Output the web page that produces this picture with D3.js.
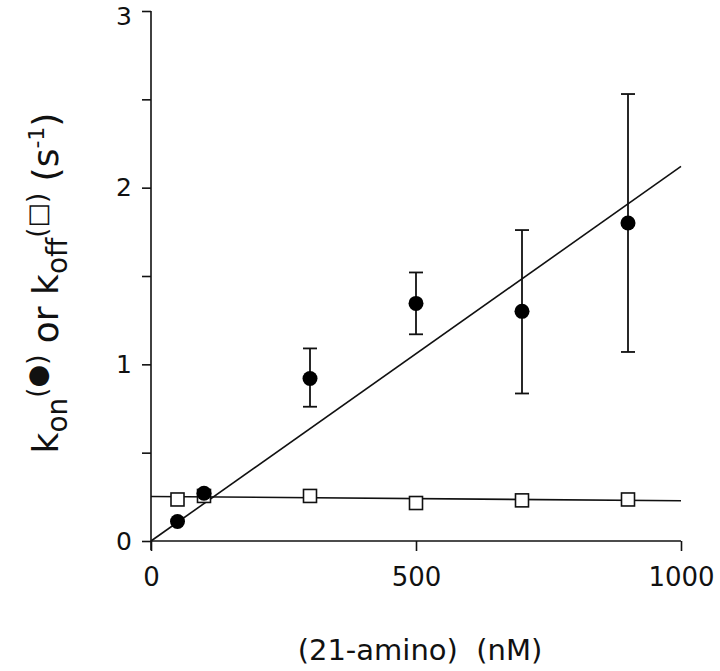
<!DOCTYPE html>
<html>
<head>
<meta charset="utf-8">
<script src="https://cdn.jsdelivr.net/npm/d3@7"></script>
<style>
  body { margin: 0; background: #fff; }
  svg { display: block; }
  text { font-family: "DejaVu Sans", sans-serif; fill: #111; }
</style>
</head>
<body>
<svg id="chart" width="720" height="671"></svg>
<script>
// ---- data ----
const conc = [50, 100, 300, 500, 700, 900];
const kon = [0.11, 0.27, 0.92, 1.345, 1.30, 1.80];
const konLow = [null, null, 0.76, 1.17, 0.835, 1.07];
const konHigh = [null, null, 1.09, 1.52, 1.76, 2.53];
const koff = [0.235, 0.255, 0.255, 0.215, 0.23, 0.235];
const konFit = [[0, 0], [1000, 2.12]];
const koffFit = [[0, 0.252], [1000, 0.228]];
const xTicks = [0, 500, 1000];
const yTicks = [0, 1, 2, 3];
const yMinorTicks = [0.5, 1.5, 2.5];

const svg = d3.select("#chart");
const x = d3.scaleLinear().domain([0, 1000]).range([151, 681]);
const y = d3.scaleLinear().domain([0, 3]).range([541, 11]);

const stroke = "#111";

// axes
const yAxis = d3.axisLeft(y).tickValues(yTicks.concat(yMinorTicks).sort())
  .tickSize(9).tickPadding(10)
  .tickFormat(d => yTicks.includes(d) ? d3.format("d")(d) : "");
const gy = svg.append("g").attr("transform", `translate(${x(0)},0)`).call(yAxis);
gy.select(".domain").attr("stroke", stroke).attr("stroke-width", 1.6).attr("d", `M-0,${y(0)+9}V${y(3)}`);
gy.selectAll(".tick line").attr("stroke", stroke).attr("stroke-width", 1.6);
gy.selectAll(".tick text").attr("font-size", 25).attr("font-family", "DejaVu Sans").attr("fill", "#111")
  .attr("dy", d => d === 3 ? "0.55em" : "0.32em");

const xAxis = d3.axisBottom(x).tickValues(xTicks).tickSize(10).tickPadding(17).tickFormat(d3.format("d"));
const gx = svg.append("g").attr("transform", `translate(0,${y(0)})`).call(xAxis);
gx.select(".domain").attr("stroke", stroke).attr("stroke-width", 1.6).attr("d", `M${x(0)},0H${x(1000)}`);
gx.selectAll(".tick line").attr("stroke", stroke).attr("stroke-width", 1.6);
gx.selectAll(".tick text").attr("font-size", 26).attr("font-family", "DejaVu Sans").attr("fill", "#111");

// fit lines
const line = d3.line().x(d => x(d[0])).y(d => y(d[1]));
svg.append("path").datum(konFit).attr("d", line).attr("fill", "none").attr("stroke", stroke).attr("stroke-width", 1.6);
svg.append("path").datum(koffFit).attr("d", line).attr("fill", "none").attr("stroke", stroke).attr("stroke-width", 1.6);

// error bars
const capW = 7;
conc.forEach((c, i) => {
  if (konLow[i] == null) return;
  const g = svg.append("g").attr("stroke", stroke).attr("stroke-width", 1.8);
  g.append("line").attr("x1", x(c)).attr("x2", x(c)).attr("y1", y(konLow[i])).attr("y2", y(konHigh[i]));
  g.append("line").attr("x1", x(c) - capW).attr("x2", x(c) + capW).attr("y1", y(konLow[i])).attr("y2", y(konLow[i]));
  g.append("line").attr("x1", x(c) - capW).attr("x2", x(c) + capW).attr("y1", y(konHigh[i])).attr("y2", y(konHigh[i]));
});

// koff squares
const sq = 13;
svg.append("g").selectAll("rect").data(conc).join("rect")
  .attr("x", d => x(d) - sq / 2).attr("y", (d, i) => y(koff[i]) - sq / 2)
  .attr("width", sq).attr("height", sq)
  .attr("fill", "#fff").attr("stroke", stroke).attr("stroke-width", 1.6);

// kon circles
svg.append("g").selectAll("circle").data(conc).join("circle")
  .attr("cx", d => x(d)).attr("cy", (d, i) => y(kon[i])).attr("r", 7.5)
  .attr("fill", "#000");

// x label
svg.append("text").attr("x", 420).attr("y", 660).attr("text-anchor", "middle")
  .attr("font-size", 29).attr("xml:space", "preserve").text("(21-amino)  (nM)");

// y label
const yl = svg.append("text").attr("transform", "translate(58,283) rotate(-90)")
  .attr("text-anchor", "middle").attr("font-size", 36);
yl.append("tspan").text("k");
yl.append("tspan").attr("font-size", 28).attr("dy", 9).text("on");
yl.append("tspan").attr("font-size", 26).attr("dy", -21).text("(●)");
yl.append("tspan").attr("dy", 12).text(" or k");
yl.append("tspan").attr("font-size", 28).attr("dy", 9).text("off");
yl.append("tspan").attr("font-size", 26).attr("dy", -21).text("(□)");
yl.append("tspan").attr("dy", 12).text(" (s");
yl.append("tspan").attr("font-size", 22).attr("dy", -14).text("-1");
yl.append("tspan").attr("dy", 14).text(")");
</script>
</body>
</html>
